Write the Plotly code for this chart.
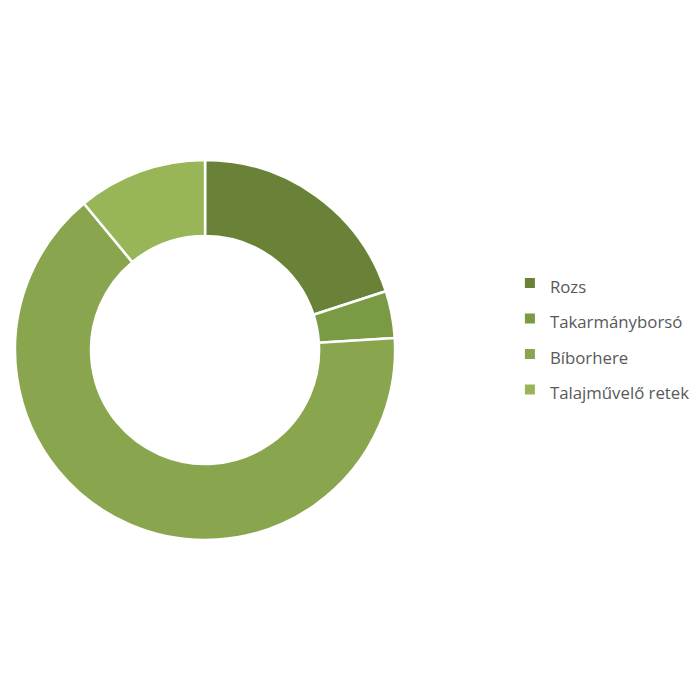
import plotly.graph_objects as go

labels = ["Rozs", "Takarmányborsó", "Bíborhere", "Talajművelő retek"]
values = [20, 4, 65, 11]
colors = ["#6a8238", "#7b9a44", "#89a64f", "#98b658"]

# smaller visible text inside a taller legend row, to get the wide row spacing
legend_labels = ["<span style='font-size:16.8px'>%s</span>" % s for s in labels]

fig = go.Figure(go.Pie(
    labels=legend_labels,
    values=values,
    hole=0.6,
    sort=False,
    direction="clockwise",
    rotation=0,
    textinfo="none",
    hovertext=labels,
    hoverinfo="text+value",
    marker=dict(colors=colors, line=dict(color="white", width=2.5)),
    domain=dict(x=[0.01, 0.553], y=[0.24, 0.783]),
))

fig.update_layout(
    width=700,
    height=700,
    paper_bgcolor="white",
    plot_bgcolor="white",
    margin=dict(l=0, r=0, t=0, b=0),
    showlegend=True,
    legend=dict(
        x=0.717, y=0.531, xanchor="left", yanchor="middle",
        font=dict(family="Open Sans, Lato, sans-serif", size=25, color="#595959"),
        itemsizing="constant",
        tracegroupgap=0,
    ),
)

fig.write_html("out.html")
